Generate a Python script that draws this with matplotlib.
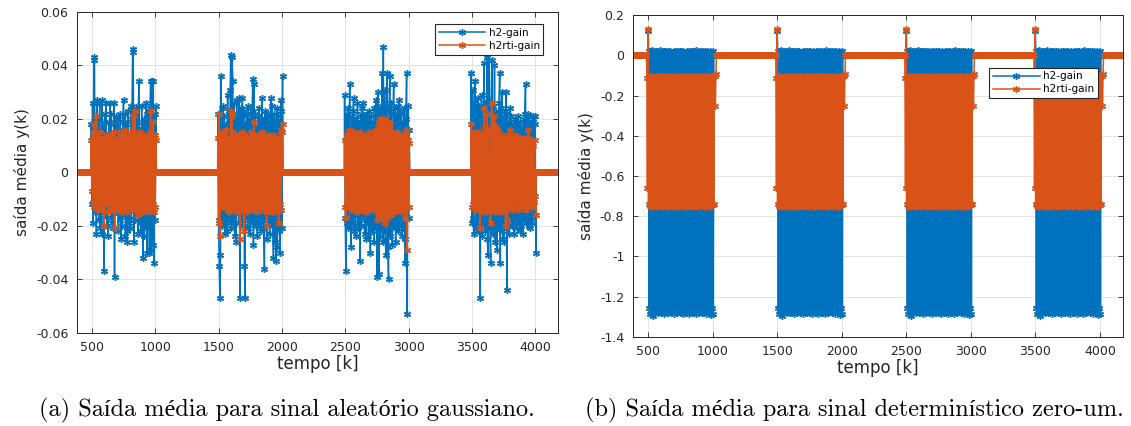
import numpy as np
import matplotlib.pyplot as plt

blue = '#0072BD'
orange = '#D95319'

# time axis / bursts of excitation (tempo k)
k_first, k_last = 370, 4200
burst_start = [500, 1500, 2500, 3500]
burst_end = [1005, 2005, 3005, 4005]
x_ticks = [500, 1000, 1500, 2000, 2500, 3000, 3500, 4000]

# ---- (a) gaussian random input, values read per burst (x 1e-3)
a_h2_1 = [18, -12, 26, -19, 42, 43, -15, 21, -23, 27, -14, 20, -18, 26, -21, 15, -23, 27, -12, 19,
          -37, 22, -16, 26, -20, 14, -24, 19, -13, 26, -17, 22, -19, 12, -21, 26, -39, 18, -15, 21,
          -14, 20, -22, 16, -18, 22, -25, 13, -20, 19, 27, -16, 22, -24, 18, -26, -22, 23, -19, 14,
          -21, 25, -17, 20, 45, 46, -26, 21, -18, 24, -15, 19, -23, 25, 34, -19, 16, -22, 25, -17,
          -32, 20, -24, 18, -21, 26, -30, 22, -19, 23, -30, 24, 34, -29, 34, -27, 34, -34, 22, -18, 25]
a_h2_2 = [22, -18, -35, -47, -31, 36, -20, 24, 25, -19, 21, -23, 18, -17, -22, 29, -16, 23, -19, 31,
          44, -21, 43, 34, -18, 26, -24, 20, -26, 27, -15, 22, -19, 28, -47, 24, -17, 21, 28, -20,
          23, -35, -47, 19, -16, 22, -21, 25, -18, 20, -23, 24, -19, 23, 35, -27, 33, -18, 22, -20,
          17, -24, 21, -19, 24, -16, 20, -22, 28, -18, 19, -21, -36, 23, -17, 20, -25, 22, -19, 18,
          -23, 21, 28, -20, 25, -18, -32, 22, -26, 19, -33, 24, -28, 21, -22, 19, -30, 23, 27, -21, 36]
a_h2_3 = [29, -17, -37, 22, -19, 24, -21, 17, 33, -20, -28, 21, -18, 23, 28, -22, 19, -24, 20, -16,
          26, -21, 18, -19, -33, 22, -20, 24, 26, -17, 21, -23, 19, -25, 22, -18, 20, -24, 23, -19,
          -30, 21, -22, 18, -20, 24, -26, 19, -21, 27, -39, 22, 30, -38, 23, -24, 25, -21, 37, -26,
          47, -22, 31, -25, -31, 24, 37, -28, -40, 23, 36, -24, 26, -21, -27, 22, 33, -20, 24, -26,
          21, -19, 25, -22, 27, -20, 23, -18, 22, -24, 19, -21, 24, -25, -34, 20, 37, -53, 25, -17, 16]
a_h2_4 = [37, -19, 31, -17, -23, 26, 34, -21, 24, -18, 28, -22, 25, -20, -47, 23, 29, -24, 21, -19,
          41, -22, 26, -20, 43, -25, -31, 27, 45, -21, -34, 24, 42, -23, 25, -19, 40, -26, 22, -20,
          -29, 23, -21, 26, 37, -34, 24, -22, 30, -25, 21, -26, 23, -19, 30, -44, 22, -20, 19, -23,
          24, -18, 21, -20, 18, -17, -23, 20, -19, 17, 19, -21, 21, -18, 17, -22, 19, -20, 16, -18,
          -23, 20, -17, 22, 33, -19, 21, -18, 22, -20, 19, -21, 18, -17, -19, 20, 21, -16, 18, 21, -30]

a_rti_1 = [12, -7, 15, -11, 18, -13, 14, -12, 21, -10, 13, -14, 12, -11, 15, -13, 11, -14, 12, -10,
           -20, 13, -12, 14, -11, 12, -15, 13, -10, 14, -12, 11, -14, 13, -12, 15, -21, 12, -13, 11,
           -14, 12, -11, 15, -13, 12, -14, 11, -15, 13, 16, -12, 14, -13, 11, -15, 13, -12, 14, -11,
           15, -13, 12, -14, 21, -12, 15, -13, 23, -14, 12, -11, -16, 14, -13, 15, -12, 14, -15, 12,
           -13, 14, -12, 11, -14, 13, -15, 12, -13, 14, -12, 15, 23, -14, 13, -12, 19, -15, 14, -13, 12]
a_rti_2 = [13, -19, 22, -24, 14, -12, 15, -13, 12, -11, 14, -13, 16, -12, 11, -14, 13, -15, 12, -13,
           23, -14, 21, -12, 15, -13, 14, -11, 13, -15, 12, -13, 14, -12, -25, 13, -11, 15, -14, 12,
           -22, 13, -12, 14, -15, 11, -13, 12, -14, 13, -12, 15, -11, 13, -14, 12, 19, -13, 14, -12,
           13, -15, 12, -11, 14, -13, 12, -14, 15, -12, 11, -13, 14, -12, 13, -15, -20, 12, -13, 14,
           -12, 13, -14, 11, -15, 12, -13, 14, -12, 13, -14, 12, -15, 11, -19, 13, -12, 16, -14, 15, 18]
a_rti_3 = [12, -13, -17, 14, -12, 15, -13, 14, 16, -12, 13, -14, 12, -13, 15, -11, 14, -12, 13, -15,
           12, -14, 13, -12, 15, -13, 12, -14, 13, -11, 14, -13, 12, -15, 13, -12, 14, -11, 15, -13,
           12, -14, 13, -12, 15, -13, 14, -12, 16, -14, -18, 17, -15, 19, -16, 20, -17, 18, -15, 20,
           -16, 19, -19, 20, -15, 18, -17, 19, -14, 17, -15, 18, -16, 15, -13, 14, -15, 13, -12, 14,
           -13, 15, -14, 12, -13, 14, -12, 13, -15, 12, -14, 13, -12, 15, -17, 14, 16, -29, 12, -13, 11]
a_rti_4 = [18, -13, 14, -12, 15, -11, 13, -14, 12, -13, 15, -12, 14, -13, -21, 12, 14, -15, 13, -12,
           24, -14, 17, -13, 22, -15, 14, -12, 16, -14, -19, 15, 26, -13, 18, -14, 21, -15, 17, -13,
           14, -12, 16, -14, 13, -15, 12, -13, 14, -12, 13, -14, 12, -15, -20, 13, -18, 12, 14, -13,
           16, -12, 13, -14, 12, -11, 13, -12, 14, -13, 11, -12, 13, -14, 12, -11, 13, -12, 11, -13,
           12, -11, 13, -12, 11, -14, 12, -13, 16, -12, 13, -11, 12, -13, 11, -12, 10, -11, 12, -9, -16]

# ---- (b) zero-one input: upper / lower values inside a burst (x 1e-3)
b_h2_hi = [20, 15, 22, 25, 15, 20, 18, 22, 15, 20, 25, 17, 20, 15, 22, 20, 18, 24, 16, 20,
           21, 15, 19, 23, 17, 20, 15, 22, 18, 20, 24, 16, 20, 18, 15, 22, 19, 21, 17, 23,
           20, 15, 18, 22, 25, 17, 20, 16, 21, 19, 23, 15, 20, 18, 22, 17, 21, 19, 16, 20]
b_h2_lo = [-1255, -1285, -1265, -1295, -1270, -1280, -1270, -1275, -1280, -1270,
           -1275, -1280, -1270, -1275, -1285, -1270, -1275, -1280, -1270, -1275,
           -1280, -1270, -1275, -1285, -1270, -1275, -1280, -1270, -1275, -1280,
           -1270, -1285, -1275, -1270, -1280, -1275, -1270, -1285, -1275, -1270,
           -1280, -1275, -1270, -1285, -1275, -1270, -1280, -1275, -1270, -1280,
           -1275, -1270, -1285, -1275, -1270, -1280, -1260, -1290, -1255, -1285]
b_rti_hi = [-110, -100, -105, -100, -110, -105, -100, -110, -105, -100,
            -105, -110, -100, -105, -110, -100, -105, -100, -110, -105,
            -100, -110, -105, -100, -105, -110, -100, -105, -110, -100,
            -105, -100, -110, -105, -100, -110, -105, -100, -105, -110,
            -100, -105, -110, -100, -105, -100, -110, -105, -100, -110,
            -105, -100, -105, -110, -100, -105, -110, -100, -105, -100]
b_rti_lo = [-740, -750, -745, -755, -745, -740, -750, -745, -755, -740,
            -745, -750, -740, -755, -745, -750, -740, -745, -755, -750,
            -740, -745, -750, -755, -740, -745, -750, -740, -755, -745,
            -750, -740, -745, -755, -750, -740, -745, -750, -740, -755,
            -745, -750, -740, -745, -755, -750, -740, -745, -750, -740,
            -755, -745, -750, -740, -745, -755, -750, -740, -745, -740]
b_h2_spike = [120]
b_rti_lead = [-110, -660, 130]
b_rti_tail = [-100, -250, -90]

a_yticks = [-0.06, -0.04, -0.02, 0, 0.02, 0.04, 0.06]
a_ylabels = ['-0.06', '-0.04', '-0.02', '0', '0.02', '0.04', '0.06']
b_yticks = [-1.4, -1.2, -1.0, -0.8, -0.6, -0.4, -0.2, 0, 0.2]
b_ylabels = ['-1.4', '-1.2', '-1', '-0.8', '-0.6', '-0.4', '-0.2', '0', '0.2']


def series(bursts, lead=0, tail=0):
    """zeros between bursts, burst values spread over each burst."""
    xs, ys = [], []
    prev = k_first
    for vals, s, e in zip(bursts, burst_start, burst_end):
        s, e = s - lead, e + tail
        gx = np.arange(prev, s, 4)
        xs += [gx, np.linspace(s, e, len(vals))]
        ys += [np.zeros(len(gx)), np.asarray(vals, float) * 1e-3]
        prev = e + 4
    gx = np.arange(prev, k_last, 4)
    xs.append(gx)
    ys.append(np.zeros(len(gx)))
    return np.concatenate(xs), np.concatenate(ys)


def zigzag(hi, lo):
    return list(np.column_stack([hi, lo]).ravel())


plt.rcParams['font.family'] = 'DejaVu Sans'
fig = plt.figure(figsize=(11.31, 4.26), dpi=100)
ax_a = fig.add_axes([0.0678, 0.219, 0.4258, 0.7528])
ax_b = fig.add_axes([0.5594, 0.2096, 0.4338, 0.7545])

style = dict(marker=(6, 2, 0), ms=5, mew=1.0, lw=1.1)

xa, ya = series([a_h2_1, a_h2_2, a_h2_3, a_h2_4], lead=5)
ax_a.plot(xa, ya, color=blue, label='h2-gain', **style)
xa, ya = series([a_rti_1, a_rti_2, a_rti_3, a_rti_4], lead=5)
ax_a.plot(xa, ya, color=orange, label='h2rti-gain', **style)

burst_h2 = b_h2_spike + zigzag(b_h2_hi, b_h2_lo)
burst_rti = b_rti_lead + zigzag(b_rti_lo, b_rti_hi) + b_rti_tail
xb, yb = series([burst_h2] * 4)
ax_b.plot(xb, yb, color=blue, label='h2-gain', **style)
xb, yb = series([burst_rti] * 4, lead=10, tail=20)
ax_b.plot(xb, yb, color=orange, label='h2rti-gain', **style)

ax_a.set_ylim(-0.06, 0.06)
ax_a.set_yticks(a_yticks, a_ylabels)
ax_b.set_ylim(-1.4, 0.2)
ax_b.set_yticks(b_yticks, b_ylabels)

for ax in (ax_a, ax_b):
    ax.set_xlim(380, 4182)
    ax.set_xticks(x_ticks)
    ax.grid(True, color='#E3E3E3', lw=0.7)
    ax.set_axisbelow(True)
    ax.tick_params(direction='in', top=True, right=True, length=3.5, width=0.6,
                   color='#262626', labelcolor='#262626', labelsize=9, pad=6)
    for sp in ax.spines.values():
        sp.set_color('#262626')
        sp.set_linewidth(0.7)
    ax.set_xlabel('tempo [k]', fontsize=12, color='#262626', labelpad=1)
    ax.set_ylabel('saída média y(k)', fontsize=11, color='#262626', labelpad=4)

for ax, anchor in ((ax_a, (0.969, 0.962)), (ax_b, (0.948, 0.837))):
    leg = ax.legend(loc='upper right', bbox_to_anchor=anchor, fontsize=7.5,
                    handlelength=4.5, handletextpad=0.3, borderpad=0.35,
                    labelspacing=0.3, fancybox=False, edgecolor='#262626',
                    framealpha=1, borderaxespad=0)
    leg.get_frame().set_linewidth(0.8)

cap_font = ['cmr10', 'Liberation Serif']
fig.text(0.254, 0.037, '(a) Saída média para sinal aleatório gaussiano.',
         ha='center', va='center', size=17.5, family=cap_font)
fig.text(0.755, 0.037, '(b) Saída média para sinal determinístico zero-um.',
         ha='center', va='center', size=17.5, family=cap_font)

fig.savefig('out.png', dpi=100)
